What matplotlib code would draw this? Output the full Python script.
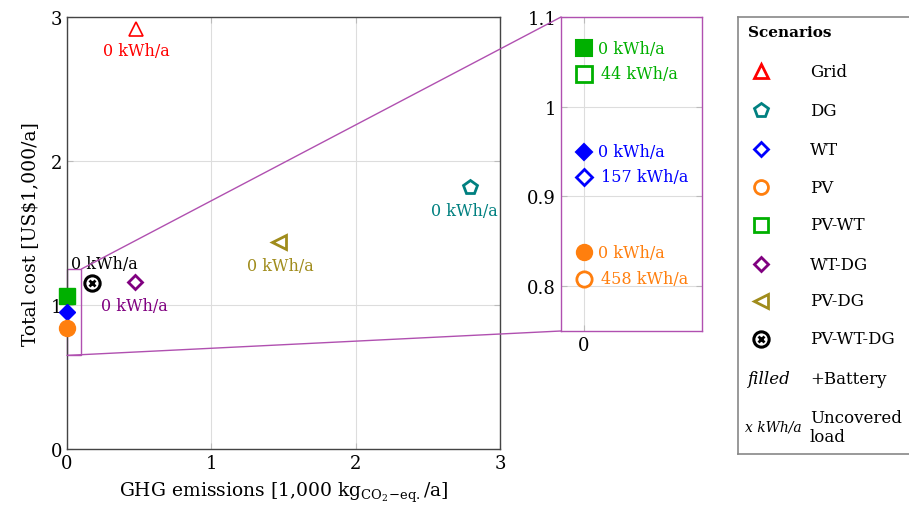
import matplotlib
matplotlib.use("Agg")
import matplotlib.pyplot as plt
from matplotlib.patches import Rectangle, ConnectionPatch

plt.rcParams['font.family'] = ['DejaVu Serif']
plt.rcParams['mathtext.fontset'] = 'dejavuserif'

# ---- data ----
scenarios = ["Grid", "DG", "WT", "PV", "PV-WT", "WT-DG", "PV-DG", "PV-WT-DG"]
colors = ["#ff0000", "#008080", "#0000ff", "#ff7f0e", "#00b000", "#800080", "#a08c1c", "#000000"]
markers = ["^", "p", "D", "o", "s", "D", "<", "o"]

# main plot (without battery)
main_names = ["Grid", "DG", "WT-DG", "PV-DG", "PV-WT-DG"]
main_x = [0.48, 2.79, 0.47, 1.47, 0.17]
main_y = [2.92, 1.82, 1.16, 1.44, 1.15]
main_labels = ["0 kWh/a", "0 kWh/a", "0 kWh/a", "0 kWh/a", "0 kWh/a"]

# battery variants (filled) shown in main at x=0
bat_names = ["PV-WT", "WT", "PV"]
bat_x = [0.0, 0.0, 0.0]
bat_y = [1.065, 0.95, 0.838]
bat_labels = ["0 kWh/a", "0 kWh/a", "0 kWh/a"]

# non-battery variants (open) only in inset
open_names = ["PV-WT", "WT", "PV"]
open_x = [0.0, 0.0, 0.0]
open_y = [1.037, 0.922, 0.808]
open_labels = ["44 kWh/a", "157 kWh/a", "458 kWh/a"]

ticks_main = [0, 1, 2, 3]
ticks_inset = [0.8, 0.9, 1.0, 1.1]
tick_labels_inset = ["0.8", "0.9", "1", "1.1"]

cmap = dict(zip(scenarios, colors))
mmap = dict(zip(scenarios, markers))
purple = "#b050b0"
W, H = 909, 510
FS = 11.5

fig = plt.figure(figsize=(9.09, 5.10), dpi=100)

def style_axes(a):
    for s in a.spines.values():
        s.set_color("#444444")
        s.set_linewidth(1.0)
    a.tick_params(direction="in", colors="#bbbbbb", labelcolor="black",
                  length=4, labelsize=13, top=True, right=True)
    a.grid(True, color="#dddddd", linewidth=0.8)
    a.set_axisbelow(True)

def draw_marker(a, name, x, y, filled, ms=10, z=3, mew=2.0):
    c = cmap[name]
    m = mmap[name]
    if name == "PV-WT-DG":
        a.plot([x], [y], marker="o", ms=ms + 1, mfc="white", mec=c, mew=2.2, ls="none", zorder=z)
        a.plot([x], [y], marker="x", ms=ms * 0.5, mec=c, mew=2.0, ls="none", zorder=z + 1)
        return
    msz = ms
    if m == "D":
        msz = ms * 0.75
    if filled:
        a.plot([x], [y], marker=m, ms=msz, mfc=c, mec=c, mew=1.5, ls="none", zorder=z)
    else:
        a.plot([x], [y], marker=m, ms=msz, mfc="white", mec=c, mew=mew, ls="none", zorder=z)

# ---- main axes ----
ax = fig.add_axes([67 / W, 1 - 450 / H, (500 - 67) / W, (450 - 18) / H])
style_axes(ax)
ax.set_xlim(0, 3)
ax.set_ylim(0, 3)
ax.set_xticks(ticks_main)
ax.set_yticks(ticks_main)
ax.set_xlabel(r"GHG emissions [1,000 kg$_{\mathrm{CO_2\!-\!eq.}}$/a]", fontsize=13.5, labelpad=6)
ax.set_ylabel(r"Total cost [US\$1,000/a]", fontsize=13.5, labelpad=8)

offsets = {"Grid": (0, -16), "DG": (-4, -17), "WT-DG": (0, -17), "PV-DG": (1, -17), "PV-WT-DG": (9, 14)}
for n, x, y, lab in zip(main_names, main_x, main_y, main_labels):
    draw_marker(ax, n, x, y, filled=False, mew=(1.2 if n == "Grid" else 2.0))
    ax.annotate(lab, (x, y), xytext=offsets[n], textcoords="offset points",
                ha="center", va="center", color=cmap[n], fontsize=FS, clip_on=False)

for n, x, y in zip(bat_names, bat_x, bat_y):
    ax.plot([x], [y], marker=mmap[n], ms=(8.5 if mmap[n] == "D" else 11.5), mfc=cmap[n],
            mec=cmap[n], ls="none", zorder=4, clip_on=False)

# zoom rectangle
rx0, rx1, ry0, ry1 = 0.0, 0.1, 0.65, 1.25
ax.add_patch(Rectangle((rx0, ry0), rx1 - rx0, ry1 - ry0, fill=False, ec=purple, lw=1.0, zorder=2, clip_on=False))

# ---- inset axes ----
ix0 = -0.0163
axi = fig.add_axes([561 / W, 1 - 332 / H, (702 - 561) / W, (332 - 18) / H])
style_axes(axi)
axi.set_xlim(ix0, ix0 + 0.1)
axi.set_ylim(0.75, 1.1)
axi.set_xticks([0])
axi.set_xticklabels(["0"])
axi.set_yticks(ticks_inset)
axi.set_yticklabels(tick_labels_inset)
for s in axi.spines.values():
    s.set_color(purple)

for n, x, y, lab in zip(bat_names, bat_x, bat_y, bat_labels):
    draw_marker(axi, n, x, y, filled=True, ms=11)
    axi.annotate(lab, (x, y), xytext=(10, 0), textcoords="offset points",
                 ha="left", va="center", color=cmap[n], fontsize=FS)
for n, x, y, lab in zip(open_names, open_x, open_y, open_labels):
    draw_marker(axi, n, x, y, filled=False, ms=11)
    axi.annotate(lab, (x, y), xytext=(12, 0), textcoords="offset points",
                 ha="left", va="center", color=cmap[n], fontsize=FS)

# connector lines
for (xa, ya), (xb, yb) in [((rx1, ry1), (0, 1)), ((rx0, ry0), (0, 0))]:
    con = ConnectionPatch(xyA=(xa, ya), coordsA=ax.transData, xyB=(xb, yb), coordsB=axi.transAxes,
                          color=purple, lw=1.0)
    fig.add_artist(con)

# ---- legend panel ----
axl = fig.add_axes([738 / W, 1 - 455 / H, 0.3, (455 - 18) / H])
axl.set_xlim(738, 738 + 0.3 * W)
axl.set_ylim(455, 18)
axl.set_xticks([])
axl.set_yticks([])
for s in axl.spines.values():
    s.set_color("#888888")
    s.set_linewidth(1.2)
axl.text(748, 33, "Scenarios", fontsize=11, fontweight="bold", va="center", ha="left")
leg_y = [72, 111, 150, 188, 226, 265, 302, 340]
LFS = 12
for n, y in zip(scenarios, leg_y):
    draw_marker(axl, n, 761, y, filled=False, ms=10)
    axl.text(810, y, n, fontsize=LFS, va="center", ha="left")
axl.text(747, 379, "filled", fontsize=LFS, style="italic", va="center", ha="left")
axl.text(810, 379, "+Battery", fontsize=LFS, va="center", ha="left")
axl.text(745, 428, "x kWh/a", fontsize=10, style="italic", va="center", ha="left")
axl.text(810, 428, "Uncovered\nload", fontsize=LFS, va="center", ha="left", linespacing=1.1)

fig.savefig("out.png", dpi=100)
